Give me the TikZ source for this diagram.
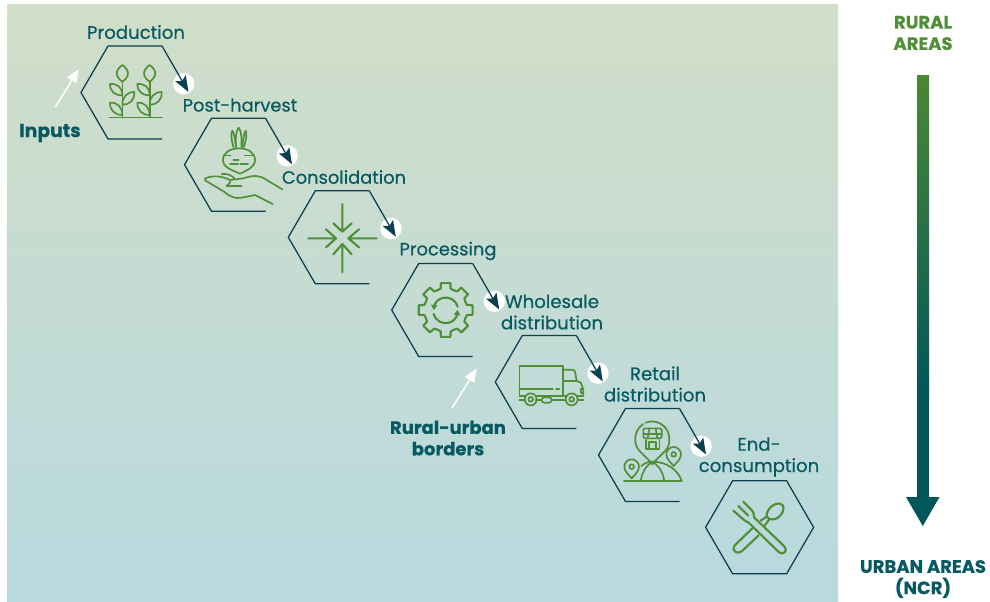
\documentclass[tikz,border=0pt]{standalone}
\usepackage{fontspec}
\setmainfont{Poppins}
\newfontfamily\medfont{Poppins}[FakeBold=0.5]
\newfontfamily\hvyfont{Poppins}[BoldFeatures={FakeBold=0.4}]
\usetikzlibrary{arrows.meta}
\definecolor{labelc}{HTML}{075A62}
\definecolor{hexc}{HTML}{0C3F4F}
\definecolor{leaf}{HTML}{4F8F37}
\definecolor{tealb}{HTML}{00565A}
\definecolor{bgtop}{HTML}{D1DEC8}
\definecolor{bgbot}{HTML}{B8D9DF}
\tikzset{
  hexline/.style={draw=hexc,line width=0.95pt,line join=miter},
  flowarrow/.style={hexline,-{Stealth[length=12pt,width=9pt,inset=2.5pt]}},
  whitearrow/.style={draw=white,line width=1.1pt,-{Triangle[length=10pt,width=8pt]}},
  dot/.style={circle,fill=white,minimum size=16pt,inner sep=0pt},
  lbl/.style={text=labelc,font=\medfont\fontsize{13.4}{16}\selectfont,align=center,inner sep=0pt},
  boldlbl/.style={text=labelc,font=\hvyfont\bfseries\fontsize{13.5}{16}\selectfont,align=center,inner sep=0pt},
  icon/.style={draw=leaf,line width=1.25pt,line join=round,line cap=round},
  iconb/.style={draw=leaf,line width=1.6pt,line join=round,line cap=round},
  zoomed/.style={x=0.25pt,y=-0.25pt},
}
\newcommand{\hexpts}[3]{%
  \path (#2,#3) coordinate (#1-c)
    ++(27,-46.5) coordinate (#1-tr)
    (#2,#3) ++(-27,-46.5) coordinate (#1-tl)
    (#2,#3) ++(-54,0) coordinate (#1-l)
    (#2,#3) ++(-27,46.5) coordinate (#1-bl)
    (#2,#3) ++(27,46.5) coordinate (#1-br)
    (#2,#3) ++(54,0) coordinate (#1-r)
    (#2,#3) ++(53.5,-0.5) coordinate (#1-tip);
  \node[dot] (#1-dot) at ([shift={(48.7,-8.8)}]#1-c) {};
  \draw[hexline] (#1-br) -- (#1-bl) -- (#1-l) -- (#1-tl) -- (#1-tr);
  \draw[flowarrow] (#1-tr) -- (#1-tip);
}
\newcommand{\plant}{%
  \draw[icon] (367,245) -- (367,352);
  \draw[icon] (367,195) .. controls (378,203) and (384,212) .. (384,220) .. controls (384,230) and (375,240) .. (367,245) .. controls (359,240) and (350,230) .. (350,220) .. controls (350,212) and (356,203) .. (367,195) -- cycle;
  \draw[icon] (367,286) .. controls (345,286) and (330,275) .. (330,252) .. controls (352,250) and (367,262) .. (367,286) -- cycle;
  \draw[icon] (367,314) .. controls (392,314) and (404,298) .. (403,276) .. controls (380,276) and (367,292) .. (367,314) -- cycle;
  \draw[icon] (367,345) .. controls (345,345) and (330,332) .. (330,308) .. controls (352,306) and (367,322) .. (367,345) -- cycle;
}
\newcommand{\mappin}{%
  \draw[icon] (0,35) .. controls (-8,25) and (-22,15) .. (-22,0) .. controls (-22,-12) and (-12,-22) .. (0,-22) .. controls (12,-22) and (22,-12) .. (22,0) .. controls (22,15) and (8,25) .. (0,35) -- cycle;
  \draw[icon] (0,0) circle[radius=7];
}
\begin{document}
\begin{tikzpicture}[x=0.75pt,y=-0.75pt]
\useasboundingbox (0,0) rectangle (990,601);
\fill[white] (0,0) rectangle (990,601);
\shade[top color=bgtop,bottom color=bgbot] (7,4) rectangle (838,601);

% hexagons with their arrows
\hexpts{pr}{135}{92.5}
\hexpts{ph}{238.5}{164.7}
\hexpts{co}{342.3}{237.3}
\hexpts{pc}{445.7}{310}
\hexpts{wh}{549.3}{382}
\hexpts{re}{652.5}{455}
\path (759.6,527.3) coordinate (ec-c)
  ++(27,-46.5) coordinate (ec-tr) (759.6,527.3) ++(-27,-46.5) coordinate (ec-tl)
  (759.6,527.3) ++(-54,0) coordinate (ec-l) (759.6,527.3) ++(-27,46.5) coordinate (ec-bl)
  (759.6,527.3) ++(27,46.5) coordinate (ec-br) (759.6,527.3) ++(54,0) coordinate (ec-r);
\draw[hexline] (ec-tl) -- (ec-tr) -- (ec-r) -- (ec-br) -- (ec-bl) -- (ec-l) -- cycle;

% labels
\node[lbl,font=\medfont\fontsize{13.6}{16}\selectfont] (tProd) at (136,32) {Production};
\node[lbl] (tPost) at (240,105) {Post-harvest};
\node[lbl] (tCons) at (344,177) {Consolidation};
\node[lbl] (tProc) at (448,251) {Processing};
\node[lbl,font=\medfont\fontsize{13.6}{16}\selectfont] (tWhol) at (552,312) {Wholesale\\distribution};
\node[lbl,font=\medfont\fontsize{13.6}{16}\selectfont] (tReta) at (655,384) {Retail\\distribution};
\node[lbl,font=\medfont\fontsize{13.6}{16}\selectfont] (tEnd) at (759,457) {End-\\consumption};
\node[boldlbl,font=\hvyfont\bfseries\fontsize{14}{16}\selectfont] (tInp) at (50,133) {Inputs};
\node[boldlbl] (tRur) at (448,438) {Rural-urban\\borders};
\node[boldlbl,text=leaf] (tRA) at (923,33) {RURAL\\AREAS};
\node[boldlbl] (tUA) at (923,579) {URBAN AREAS\\(NCR)};

% white arrows
\coordinate (inA) at (55.3,107.3);
\coordinate (inB) at (78.7,69);
\draw[whitearrow] (inA) -- (inB);
\coordinate (ruA) at (452,408);
\coordinate (ruB) at (476.7,368.5);
\draw[whitearrow] (ruA) -- (ruB);

% big gradient arrow
\shade[top color=leaf!95!black,bottom color=tealb] (917,75) rectangle (929,400);
\fill[tealb] (917,399.5) rectangle (929,498);
\fill[tealb] (906,497) -- (939.5,497) -- (922.8,526) -- cycle;

% icon 1: plants
\begin{scope}[zoomed]
  \draw[icon] (328,352) -- (486,352);
  \plant
  \begin{scope}[xshift=20.5pt]\plant\end{scope}
\end{scope}

% icon 2: beet and hand
\begin{scope}[zoomed]
  \draw[icon] (717,445) .. controls (690,445) and (669,458) .. (669,480) .. controls (669,502) and (695,510) .. (720,521) .. controls (742,510) and (765,502) .. (765,480) .. controls (765,458) and (744,445) .. (717,445) -- cycle;
  \draw[icon] (700,441) .. controls (694,420) and (692,400) .. (697,392) .. controls (703,400) and (705,420) .. (708,441);
  \draw[icon] (708,441) .. controls (706,415) and (708,392) .. (716,383) .. controls (724,392) and (726,415) .. (724,441);
  \draw[icon] (726,441) .. controls (730,420) and (731,400) .. (737,392) .. controls (742,400) and (738,420) .. (732,441);
  \draw[icon] (671,466) -- (692,466) (735,466) -- (760,466);
  \draw[icon] (700,480) -- (716,480);
  \draw[icon] (690,492) -- (715,492) (722,492) -- (744,492);
  \draw[icon] (847,568) -- (800,540) .. controls (780,525) and (760,525) .. (730,535) -- (690,540) .. controls (665,528) and (640,525) .. (616,535) .. controls (612,540) and (616,543) .. (622,545) -- (672,575) .. controls (690,590) and (705,597) .. (725,593) -- (765,585) -- (818,612);
  \draw[icon] (680,558) -- (725,558) (680,558) .. controls (690,548) and (695,542) .. (690,540);
  \draw[icon] (665,522) .. controls (680,520) and (695,525) .. (705,537);
\end{scope}

% icon 3: converging arrows
\begin{scope}[shift={(280,160)},zoomed]
  \draw[iconb] (187,132) -- (187,215) (160,190) -- (187,215) -- (215,190);
  \draw[iconb] (187,337) -- (187,252) (160,283) -- (187,252) -- (215,283);
  \draw[iconb] (85,235) -- (168,235) (138,208) -- (168,235) -- (138,262);
  \draw[iconb] (290,235) -- (205,235) (237,208) -- (205,235) -- (237,262);
\end{scope}

% icon 4: gear
\begin{scope}[shift={(280,160)},zoomed]
  \begin{scope}[shift={(497,450)}]
    \foreach \a in {0,45,...,315}{
      \draw[iconb] ({\a-22.5}:64) -- ({\a-13}:66) -- ({\a-10}:82) -- ({\a+10}:82) -- ({\a+13}:66) -- ({\a+22.5}:64);
    }
    \draw[iconb] (36,-10) arc[start angle=-15,end angle=-165,radius=37];
    \draw[iconb] (-36,12) arc[start angle=165,end angle=15,radius=37];
    \fill[leaf] (-44,-16) -- (-24,-14) -- (-36,0) -- cycle;
    \fill[leaf] (44,16) -- (24,14) -- (36,0) -- cycle;
  \end{scope}
\end{scope}

% icon 5: truck
\begin{scope}[shift={(480,320)},zoomed]
  \draw[icon] (118,228) -- (118,137) -- (248,137) -- (248,228);
  \draw[icon] (118,207) -- (218,207) (228,207) -- (238,207);
  \draw[icon] (118,228) -- (135,228) (168,228) -- (258,228) (293,228) -- (310,228) -- (310,210) -- (303,188) -- (290,183) -- (285,155) .. controls (283,150) and (280,149) .. (276,149) -- (248,149);
  \draw[icon] (248,183) -- (290,183);
  \draw[icon] (118,240) -- (135,240) (168,240) -- (185,240) (215,240) -- (256,240) (295,240) -- (310,240);
  \draw[icon] (152,238) circle[radius=18] (152,238) circle[radius=7];
  \draw[icon] (275,238) circle[radius=18] (275,238) circle[radius=7];
  \draw[icon,rounded corners=2pt] (185,232) rectangle (215,248);
  \draw[icon] (310,207) -- (302,207) -- (302,218) -- (310,218);
\end{scope}

% icon 6: store in a map pin, globe
\begin{scope}[shift={(480,320)},zoomed]
  \draw[icon] (490,312) .. controls (470,325) and (460,350) .. (469,378) .. controls (475,395) and (500,410) .. (517,433) .. controls (534,410) and (560,395) .. (566,375) .. controls (574,345) and (560,315) .. (530,306) .. controls (515,303) and (505,304) .. (497,308);
  \draw[icon,rounded corners=1.5pt] (490,355) -- (490,335) .. controls (490,328) and (495,325) .. (500,325) -- (535,325) .. controls (540,325) and (545,328) .. (545,335) -- (545,355) -- cycle;
  \draw[icon] (490,342) -- (545,342) (508,325) -- (503,355) (527,325) -- (532,355);
  \draw[icon] (497,360) -- (497,387) -- (538,387) -- (538,360);
  \draw[icon] (507,387) -- (507,366) -- (528,366) -- (528,387);
  \draw[icon] (432,483) -- (605,483);
  \draw[icon] (484,438) .. controls (495,428) and (505,425) .. (517,425) .. controls (560,425) and (595,450) .. (605,483);
  \draw[icon] (517,425) .. controls (495,440) and (485,460) .. (482,483);
  \draw[icon] (517,425) .. controls (540,440) and (550,460) .. (553,483);
  \begin{scope}[shift={(455,440)}]\mappin\end{scope}
  \begin{scope}[shift={(581,403)}]\mappin\end{scope}
\end{scope}

% icon 7: fork and spoon
\begin{scope}[shift={(480,320)},zoomed]
  \draw[iconb] (822,592) -- (914,680) .. controls (925,692) and (908,708) .. (896,696) -- (806,608) .. controls (798,604) and (794,602) .. (790,598) -- (760,572);
  \draw[iconb] (822,592) .. controls (822,585) and (822,578) .. (815,570) -- (790,545);
  \draw[iconb] (775,558) -- (805,587);
  \draw[iconb] (836,646) -- (785,694) .. controls (772,706) and (752,690) .. (764,676) -- (816,626);
  \draw[iconb] (860,590) .. controls (858,570) and (880,548) .. (900,551) .. controls (915,553) and (913,575) .. (900,588) .. controls (888,600) and (870,603) .. (860,590) -- cycle;
  \draw[iconb] (860,590) -- (842,602);
  \draw[iconb] (868,598) -- (853,618);
\end{scope}
\end{tikzpicture}
\end{document}
